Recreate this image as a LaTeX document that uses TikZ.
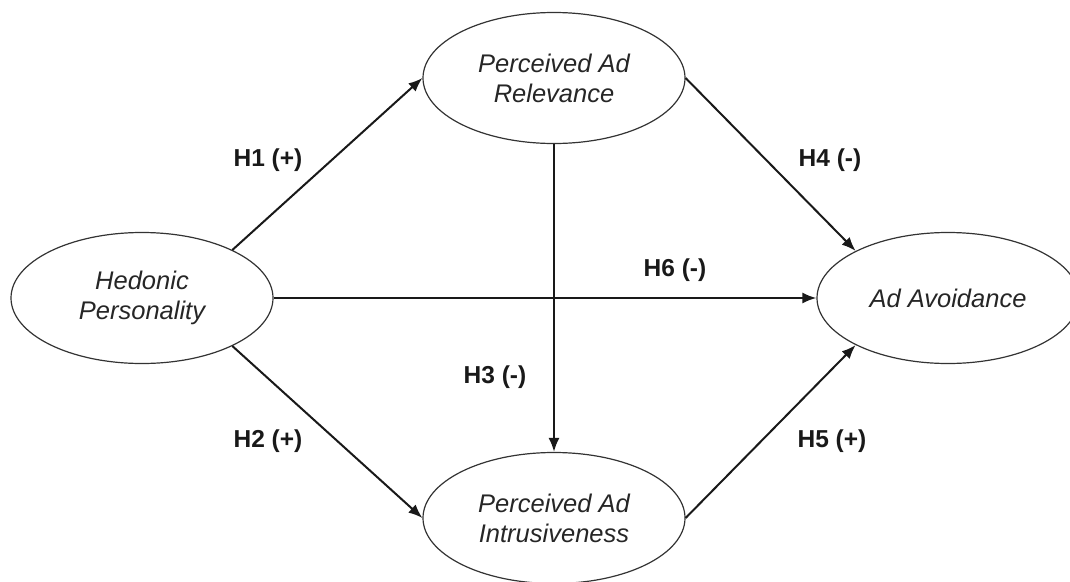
\documentclass[tikz,border=0pt]{standalone}
\usepackage{fontspec}
\setmainfont{Liberation Sans}
\usetikzlibrary{shapes.geometric,arrows.meta}
\begin{document}
\begin{tikzpicture}[x=1pt,y=-1pt,
  construct/.style={ellipse,draw=black!80,line width=1.2pt,minimum width=262pt,minimum height=131pt,inner sep=0pt,align=center,font=\fontsize{25.5}{30}\selectfont\itshape,text=black!85},
  path/.style={line width=2pt,draw=black!90,-{Latex[length=14pt,width=11pt]}},
  hyp/.style={font=\fontsize{24.5}{28}\selectfont\bfseries,text=black!90}]
\useasboundingbox (0,0) rectangle (1070,581);
\node[construct] (hp) at (142,298) {Hedonic\\Personality};
\node[construct] (rel) at (554,78) {Perceived Ad\\Relevance};
\node[construct] (int) at (554,518) {Perceived Ad\\Intrusiveness};
\node[construct] (aa) at (948,298) {Ad Avoidance};
\draw[path] (hp.28) -- (rel.west);
\draw[path] (hp.-28) -- (int.west);
\draw[path] (rel.south) -- (int.north);
\draw[path] (rel.east) -- (aa.153);
\draw[path] (int.east) -- (aa.207);
\draw[path] (hp.east) -- (aa.west);
\node[hyp] (h1) at (268,160) {H1 (+)};
\node[hyp] (h2) at (268,441) {H2 (+)};
\node[hyp] (h3) at (495,377) {H3 (-)};
\node[hyp] (h4) at (830,160) {H4 (-)};
\node[hyp] (h5) at (832,441) {H5 (+)};
\node[hyp] (h6) at (675,270) {H6 (-)};
\end{tikzpicture}
\end{document}
